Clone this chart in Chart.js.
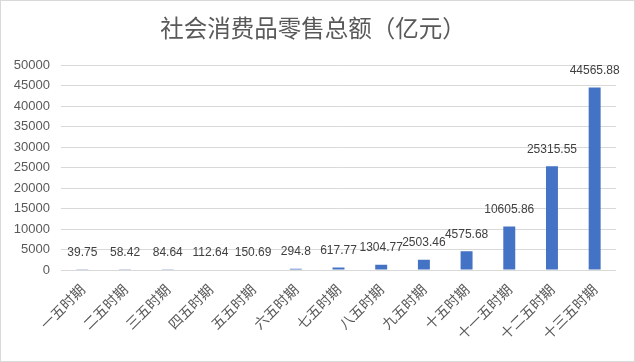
<!DOCTYPE html>
<html><head><meta charset="utf-8">
<script src="https://cdn.jsdelivr.net/npm/chart.js@4/dist/chart.umd.min.js"></script>
<style>
html,body{margin:0;padding:0;background:#fff;}
#wrap{width:635px;height:362px;box-sizing:border-box;border:1px solid #d9d9d9;position:relative;}
canvas{display:block;}
</style></head>
<body>
<div id="wrap"><canvas id="c" width="633" height="360"></canvas></div>
<script>
const titleText = '社会消费品零售总额（亿元）';
const categories = ['一五时期','二五时期','三五时期','四五时期','五五时期','六五时期','七五时期','八五时期','九五时期','十五时期','十一五时期','十二五时期','十三五时期'];
const values = [39.75, 58.42, 84.64, 112.64, 150.69, 294.8, 617.77, 1304.77, 2503.46, 4575.68, 10605.86, 25315.55, 44565.88];
const valueLabels = ['39.75','58.42','84.64','112.64','150.69','294.8','617.77','1304.77','2503.46','4575.68','10605.86','25315.55','44565.88'];
const yMin = 0, yMax = 50000, yStep = 5000;

const labelPlugin = {
  id: 'valLabels',
  afterDatasetsDraw(chart) {
    const ctx = chart.ctx;
    const meta = chart.getDatasetMeta(0);
    ctx.save();
    ctx.font = '12px "Liberation Sans", Arial, sans-serif';
    ctx.fillStyle = '#404040';
    ctx.textAlign = 'center';
    ctx.textBaseline = 'middle';
    meta.data.forEach((bar, i) => {
      ctx.fillText(valueLabels[i], bar.x, bar.y - 17);
    });
    ctx.restore();
  }
};

new Chart(document.getElementById('c'), {
  type: 'bar',
  data: {
    labels: categories,
    datasets: [{
      data: values,
      backgroundColor: '#4472C4',
      barPercentage: 0.28,
      categoryPercentage: 1.0
    }]
  },
  options: {
    responsive: false,
    animation: false,
    layout: { padding: { left: 9, right: 18, top: 0, bottom: 0 } },
    plugins: {
      legend: { display: false },
      tooltip: { enabled: false },
      title: {
        display: true,
        text: titleText,
        color: '#595959',
        font: { family: '"Noto Sans CJK SC", sans-serif', size: 23.5, weight: 'normal', lineHeight: 1.2 },
        padding: { top: 13, bottom: 23 }
      }
    },
    scales: {
      x: {
        grid: { display: false, drawTicks: false },
        border: { display: false },
        ticks: {
          color: '#595959',
          font: { family: '"Noto Sans CJK SC", sans-serif', size: 14 },
          minRotation: 45, maxRotation: 45,
          padding: 11,
          autoSkip: false
        },
        afterFit(s) { s.height = 91; }
      },
      y: {
        min: yMin, max: yMax,
        grid: { color: '#d9d9d9', drawTicks: false, lineWidth: 1 },
        border: { display: false },
        ticks: {
          stepSize: yStep,
          color: '#595959',
          font: { family: '"Liberation Sans", Arial, sans-serif', size: 13 },
          padding: 11,
          callback: v => String(v)
        },
        afterFit(s) { s.width = 51; }
      }
    }
  },
  plugins: [labelPlugin]
});
</script>
</body></html>
